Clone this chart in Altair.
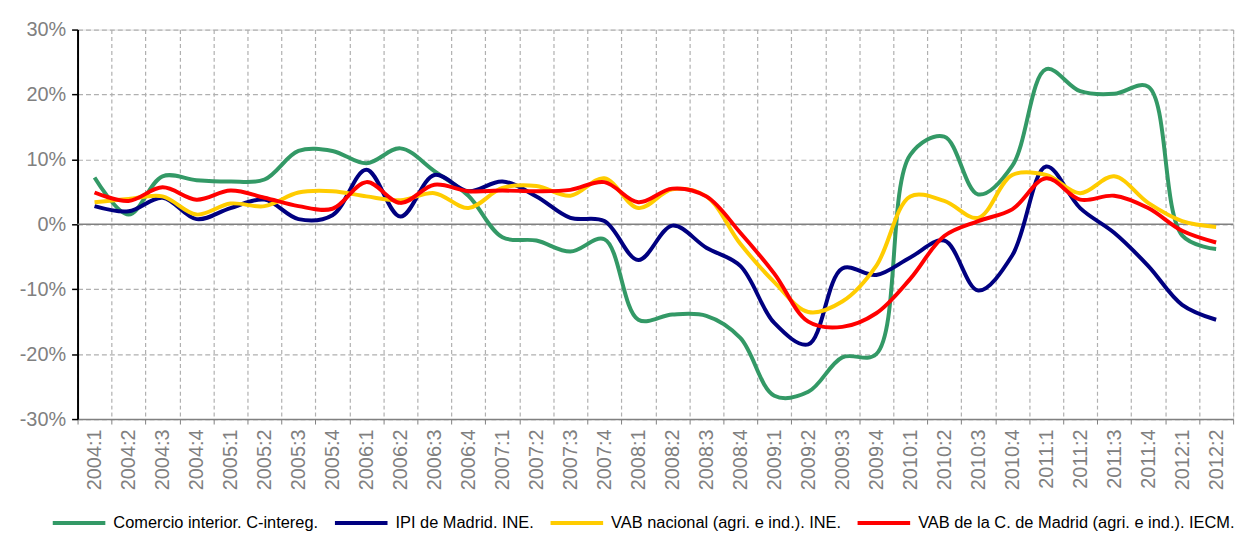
import altair as alt
import pandas as pd

quarters = [f"{y}:{q}" for y in range(2004, 2013) for q in range(1, 5)][:34]

comercio = [7.2, 1.5, 7.4, 6.8, 6.6, 6.9, 11.3, 11.3, 9.4, 11.7,
            8.2, 4.4, -2.0, -2.5, -4.2, -2.3, -14.7, -13.9, -14.1, -17.5,
            -26.4, -25.8, -20.5, -20.0, 10.7, 13.5, 4.6, 9.0, 23.9, 20.5,
            20.1, 21.2, -1.7, -3.8]
ipi = [2.8, 2.0, 4.1, 0.8, 2.5, 3.8, 0.8, 1.4, 8.4, 1.2,
       7.6, 5.1, 6.6, 4.3, 1.0, 0.5, -5.5, -0.2, -3.6, -6.4,
       -15.2, -18.5, -6.8, -7.8, -5.1, -2.5, -10.2, -4.8, 8.9, 2.5,
       -1.3, -6.4, -12.4, -14.7]
vab_nac = [3.4, 3.9, 4.3, 1.5, 3.2, 2.8, 4.9, 5.1, 4.3, 3.7,
           4.8, 2.5, 5.6, 5.9, 4.4, 7.1, 2.5, 5.4, 4.3, -3.0,
           -8.9, -13.5, -11.9, -6.4, 4.3, 3.6, 1.0, 7.6, 7.6, 4.8,
           7.4, 3.3, 0.5, -0.4]
vab_mad = [4.9, 3.6, 5.7, 3.8, 5.2, 4.1, 2.8, 2.4, 6.5, 3.3,
           6.1, 5.1, 5.2, 5.1, 5.3, 6.5, 3.4, 5.5, 4.3, -1.3,
           -7.6, -15.0, -15.8, -13.7, -8.4, -1.8, 0.5, 2.3, 7.1, 3.8,
           4.4, 2.5, -1.0, -2.8]

series_names = ["Comercio interior. C-intereg.", "IPI de Madrid. INE.",
                "VAB nacional (agri. e ind.). INE.",
                "VAB de la C. de Madrid (agri. e ind.). IECM."]
series_colors = ["#339966", "#000080", "#FFCC00", "#FF0000"]
y_ticks = [-30, -20, -10, 0, 10, 20, 30]

rows = []
for name, vals in zip(series_names, [comercio, ipi, vab_nac, vab_mad]):
    for q, v in zip(quarters, vals):
        rows.append({"q": q, "v": v, "serie": name})
df = pd.DataFrame(rows)

FONT = "Liberation Sans"

x = alt.X("q:O", sort=quarters, title=None,
          scale=alt.Scale(paddingInner=0, paddingOuter=0),
          axis=alt.Axis(labelAngle=-90, labelFontSize=20, labelColor="#808080",
                        labelFont=FONT, labelPadding=5, labelBaseline="middle",
                        tickBand="extent", grid=True, gridDash=[4, 3],
                        gridColor="#b0b0b0", gridWidth=1.2,
                        domainColor="#808080", domainWidth=1.5,
                        tickColor="#808080", tickSize=5))
y = alt.Y("v:Q", title=None,
          scale=alt.Scale(domain=[-30, 30], nice=False),
          axis=alt.Axis(values=y_ticks, labelExpr="datum.value + '%'",
                        labelFontSize=20, labelColor="#808080", labelFont=FONT,
                        labelPadding=6, grid=True, gridDash=[5, 3],
                        gridColor="#b0b0b0", gridWidth=1.2,
                        domainColor="#000000", domainWidth=2,
                        tickColor="#000000", tickSize=6, tickWidth=1.5))

lines = alt.Chart(df).mark_line(interpolate="catmull-rom", strokeWidth=4).encode(
    x=x, y=y,
    color=alt.Color("serie:N", sort=series_names,
                    scale=alt.Scale(domain=series_names, range=series_colors),
                    legend=alt.Legend(title=None, orient="none", direction="horizontal",
                                      legendX=-27, legendY=468,
                                      symbolType="stroke", symbolSize=2800,
                                      symbolStrokeWidth=4, labelFontSize=16.5,
                                      labelFont=FONT, labelColor="#000000",
                                      labelOffset=6, columnPadding=8,
                                      labelLimit=600)),
    order=alt.Order("serie_order:Q")
).transform_calculate(serie_order="indexof(" + str(series_names) + ", datum.serie)")

zero = alt.Chart(pd.DataFrame({"z": [0]})).mark_rule(color="#808080", strokeWidth=1.5).encode(
    y=alt.Y("z:Q", scale=alt.Scale(domain=[-30, 30], nice=False)))

chart = alt.layer(zero, lines).properties(
    width=1163, height=392,
    autosize=alt.AutoSizeParams(type="none"),
    padding={"left": 70, "top": 20, "right": 19, "bottom": 117},
).configure_view(stroke="#808080", strokeWidth=1.5).configure(background="white")

chart.save("out.html", embed_options={"renderer": "svg", "actions": False})
